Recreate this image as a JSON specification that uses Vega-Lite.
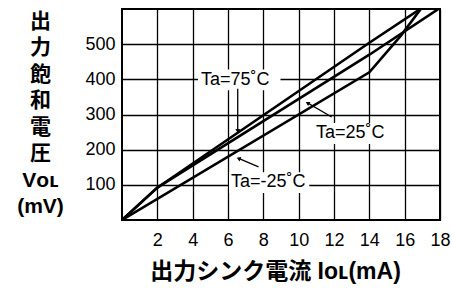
{
  "$schema": "https://vega.github.io/schema/vega-lite/v6.json",
  "width": 318,
  "height": 211,
  "autosize": {"type": "none"},
  "padding": {"left": 122, "top": 9, "right": 12, "bottom": 72},
  "background": "white",
  "config": {
    "view": {"stroke": "black", "strokeWidth": 2},
    "font": "Liberation Sans",
    "axis": {"labelOverlap": false, "labelBound": false, "labelFlush": false}
  },
  "datasets": {
    "curves": [
      {"series": "Ta=75˚C", "x": 0, "y": 0},
      {"series": "Ta=75˚C", "x": 2, "y": 92},
      {"series": "Ta=75˚C", "x": 14, "y": 504},
      {"series": "Ta=75˚C", "x": 17, "y": 604},
      {"series": "Ta=25˚C", "x": 0, "y": 0},
      {"series": "Ta=25˚C", "x": 2, "y": 92},
      {"series": "Ta=25˚C", "x": 14, "y": 470},
      {"series": "Ta=25˚C", "x": 18, "y": 603},
      {"series": "Ta=-25˚C", "x": 0, "y": 0},
      {"series": "Ta=-25˚C", "x": 14, "y": 420},
      {"series": "Ta=-25˚C", "x": 15.8, "y": 525},
      {"series": "Ta=-25˚C", "x": 17, "y": 606}
    ],
    "labels": [
      {"label": "Ta=75˚C", "x": 6.41, "y": 399, "xa": 4.3, "xb": 8.97, "ya": 369, "yb": 428},
      {"label": "Ta=25˚C", "x": 12.92, "y": 246, "xa": 10.8, "xb": 15.2, "ya": 216, "yb": 276},
      {"label": "Ta=-25˚C", "x": 8.28, "y": 108, "xa": 6.06, "xb": 10.6, "ya": 77, "yb": 136}
    ],
    "arrows": [
      {"label": "Ta=75˚C", "x": 6.55, "y": 373, "xt": 6.55, "yt": 253},
      {"label": "Ta=25˚C", "x": 11.87, "y": 293, "xt": 10.5, "yt": 333},
      {"label": "Ta=-25˚C", "x": 7.73, "y": 151, "xt": 6.6, "yt": 175}
    ]
  },
  "layer": [
    {
      "data": {"name": "labels"},
      "mark": {"type": "rect", "fill": "white", "stroke": null},
      "encoding": {
        "x": {"field": "xa", "type": "quantitative", "scale": {"domain": [0, 18], "nice": false},
          "axis": {
            "values": [2, 4, 6, 8, 10, 12, 14, 16, 18], "tickCount": 20,
            "ticks": false, "domain": false,
            "labelFontSize": 18, "labelColor": "black", "labelPadding": 11, "labelFont": "Liberation Sans",
            "grid": true, "gridColor": "black", "gridOpacity": 1, "gridWidth": 1.3,
            "title": "出力シンク電流 Iᴏʟ(mA)",
            "titleFont": "Liberation Sans, Noto Sans CJK JP",
            "titleFontSize": 23, "titleFontWeight": "bold", "titleColor": "black",
            "titleX": 153, "titleY": 58, "titleAlign": "center", "titleBaseline": "alphabetic"
          }},
        "x2": {"field": "xb"},
        "y": {"field": "ya", "type": "quantitative", "scale": {"domain": [0, 600], "nice": false},
          "axis": {
            "values": [100, 200, 300, 400, 500], "tickCount": 20,
            "ticks": false, "domain": false,
            "labelFontSize": 18, "labelColor": "black", "labelPadding": 7, "labelFont": "Liberation Sans",
            "grid": true, "gridColor": "black", "gridOpacity": 1, "gridWidth": 1.3,
            "title": ["出", "力", "飽", "和", "電", "圧", "Vᴏʟ", "(mV)"],
            "titleFont": "Liberation Sans, Noto Sans CJK JP",
            "titleFontSize": 21, "titleFontWeight": "bold", "titleColor": "black",
            "titleAngle": 0, "titleX": -82, "titleY": 1, "titleAlign": "center", "titleBaseline": "top",
            "titleLineHeight": 26.5
          }},
        "y2": {"field": "yb"}
      }
    },
    {
      "data": {"name": "curves"},
      "mark": {"type": "line", "color": "black", "strokeWidth": 2.6, "clip": true},
      "encoding": {
        "x": {"field": "x", "type": "quantitative"},
        "y": {"field": "y", "type": "quantitative"},
        "detail": {"field": "series"}
      }
    },
    {
      "data": {"name": "labels"},
      "mark": {"type": "text", "fontSize": 18, "font": "Liberation Sans", "color": "black", "align": "center", "baseline": "middle"},
      "encoding": {
        "x": {"field": "x", "type": "quantitative"},
        "y": {"field": "y", "type": "quantitative"},
        "text": {"field": "label"}
      }
    },
    {
      "data": {"name": "arrows"},
      "mark": {"type": "rule", "color": "black", "strokeWidth": 1.3},
      "encoding": {
        "x": {"field": "x", "type": "quantitative"},
        "y": {"field": "y", "type": "quantitative"},
        "x2": {"field": "xt"},
        "y2": {"field": "yt"}
      }
    },
    {
      "data": {"name": "arrows"},
      "transform": [{"filter": "datum.label === 'Ta=75˚C'"}],
      "mark": {"type": "point", "shape": "triangle-down", "filled": true, "color": "black", "size": 22, "opacity": 1},
      "encoding": {
        "x": {"field": "xt", "type": "quantitative"},
        "y": {"field": "yt", "type": "quantitative"}
      }
    },
    {
      "data": {"name": "arrows"},
      "transform": [{"filter": "datum.label === 'Ta=25˚C'"}],
      "mark": {"type": "point", "shape": "triangle-up", "filled": true, "color": "black", "size": 22, "opacity": 1, "angle": 300},
      "encoding": {
        "x": {"field": "xt", "type": "quantitative"},
        "y": {"field": "yt", "type": "quantitative"}
      }
    },
    {
      "data": {"name": "arrows"},
      "transform": [{"filter": "datum.label === 'Ta=-25˚C'"}],
      "mark": {"type": "point", "shape": "triangle-up", "filled": true, "color": "black", "size": 22, "opacity": 1, "angle": 293},
      "encoding": {
        "x": {"field": "xt", "type": "quantitative"},
        "y": {"field": "yt", "type": "quantitative"}
      }
    }
  ]
}
